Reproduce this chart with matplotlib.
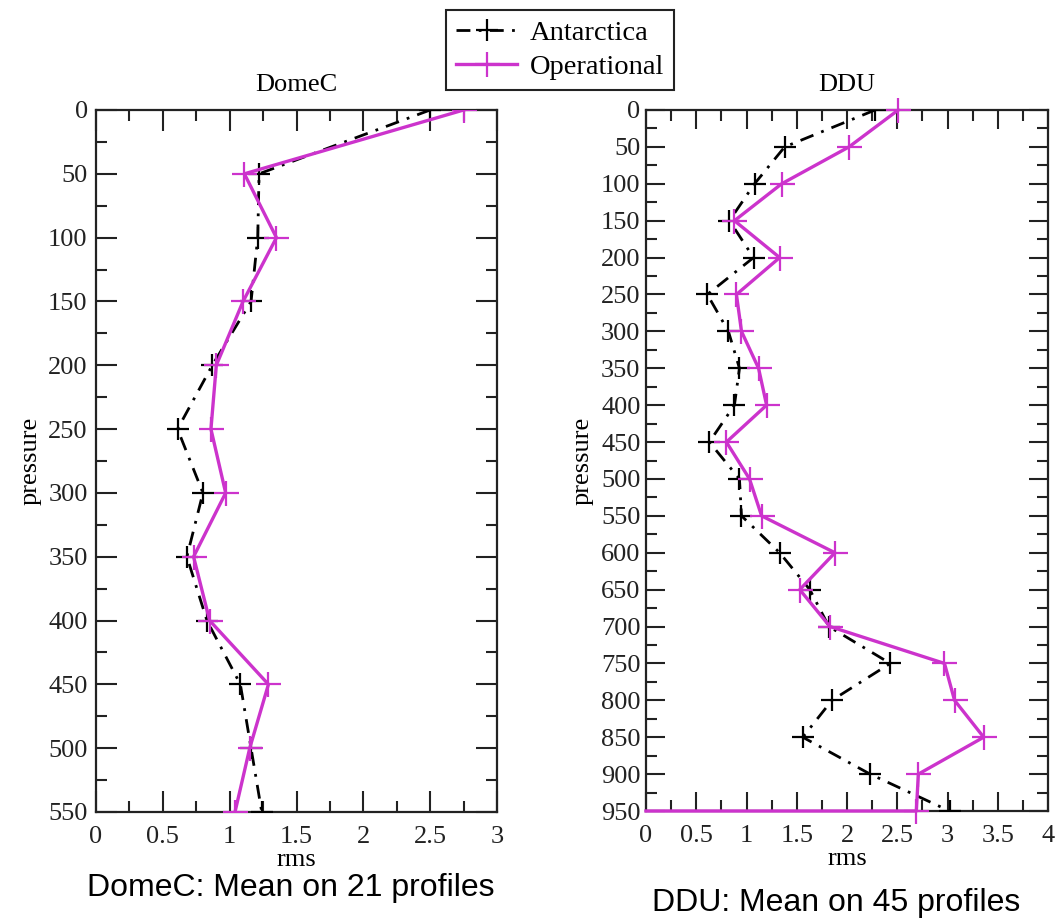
import matplotlib
matplotlib.use("Agg")
import matplotlib.pyplot as plt
from matplotlib.ticker import MultipleLocator
from matplotlib.lines import Line2D

# ---- data ----
domec_pressure = [0, 50, 100, 150, 200, 250, 300, 350, 400, 450, 500, 550]
domec_antarctica = [2.50, 1.22, 1.21, 1.16, 0.87, 0.61, 0.80, 0.68, 0.83, 1.08, 1.16, 1.24]
domec_operational = [2.75, 1.11, 1.35, 1.10, 0.90, 0.86, 0.97, 0.73, 0.85, 1.29, 1.15, 1.04]

ddu_pressure = [0, 50, 100, 150, 200, 250, 300, 350, 400, 450, 500, 550, 600, 650,
                700, 750, 800, 850, 900, 950]
ddu_antarctica = [2.28, 1.38, 1.08, 0.83, 1.07, 0.61, 0.82, 0.93, 0.88, 0.63, 0.93, 0.95,
                  1.33, 1.63, 1.82, 2.43, 1.85, 1.56, 2.23, 3.02]
ddu_operational_pressure = ddu_pressure + [950]
ddu_operational = [2.51, 2.02, 1.35, 0.88, 1.33, 0.90, 0.95, 1.12, 1.20, 0.80, 1.03, 1.15,
                   1.88, 1.53, 1.83, 2.97, 3.07, 3.36, 2.71, 2.69, 0.0]

domec_xticks = [0, 0.5, 1, 1.5, 2, 2.5, 3]
ddu_xticks = [0, 0.5, 1, 1.5, 2, 2.5, 3, 3.5, 4]

series_names = ["Antarctica", "Operational"]
black = "#000000"
magenta = "#cc33cc"

plt.rcParams['font.family'] = ['Liberation Serif', 'DejaVu Serif']

fig = plt.figure(figsize=(10.62, 9.19), dpi=100)
ax1 = fig.add_axes([96/1062, 1-812/919, (497-96)/1062, (812-110)/919])
ax2 = fig.add_axes([646/1062, 1-811/919, (1048-646)/1062, (811-110)/919])

black_style = dict(color=black, lw=2.0, linestyle=(0, (5, 3, 1, 3)),
                   marker='+', markersize=16, markeredgewidth=1.6)
mag_style = dict(color=magenta, lw=2.4, linestyle='-',
                 marker='+', markersize=18, markeredgewidth=1.6)

ax1.plot(domec_antarctica, domec_pressure, zorder=3, **black_style)
ax1.plot(domec_operational, domec_pressure, zorder=4, **mag_style)

ax2.plot(ddu_antarctica, ddu_pressure, zorder=3, clip_on=True, **black_style)
ax2.plot(ddu_operational, ddu_operational_pressure, zorder=4, clip_on=False,
         markevery=list(range(len(ddu_operational) - 1)), **mag_style)

def style_axes(ax, xmax, ymax, xticks, ystep):
    ax.set_xlim(0, xmax)
    ax.set_ylim(ymax, 0)
    ax.set_xticks(xticks)
    ax.set_xticklabels([("%g" % v) for v in xticks])
    ax.xaxis.set_minor_locator(MultipleLocator(0.25))
    ax.yaxis.set_major_locator(MultipleLocator(ystep))
    ax.yaxis.set_minor_locator(MultipleLocator(ystep / 2))
    ax.tick_params(which='both', direction='in', top=True, right=True,
                   labelsize=19, width=1.5, colors='#222222', labelcolor='#222222')
    ax.tick_params(which='major', length=15, pad=6)
    ax.tick_params(axis='x', which='major', pad=10)
    ax.tick_params(which='minor', length=8)
    for s in ax.spines.values():
        s.set_linewidth(1.6)
        s.set_color('#222222')
    ax.set_xlabel("rms", fontsize=19, labelpad=1)
    ax.set_ylabel("pressure", fontsize=19, labelpad=5)

style_axes(ax1, 3, 550, domec_xticks, 50)
style_axes(ax2, 4, 950, ddu_xticks, 50)
ax2.yaxis.set_minor_locator(MultipleLocator(25))
ax2.tick_params(which='major', length=14)
ax2.tick_params(axis='y', which='major', pad=4)

ax1.set_title("DomeC", fontsize=19, pad=14)
ax2.set_title("DDU", fontsize=19, pad=14)

handles = [Line2D([], [], **black_style), Line2D([], [], **mag_style)]
leg = fig.legend(handles, series_names, loc='upper left',
                 bbox_to_anchor=(446/1062, 1-10/919), fontsize=20.5,
                 frameon=True, fancybox=False, framealpha=1, edgecolor='#222222',
                 handlelength=2.15, handletextpad=0.45, borderpad=0.35,
                 labelspacing=0.3, borderaxespad=0)
leg.get_frame().set_linewidth(1.5)

fig.text((90+492)/2/1062, 1-888/919, "DomeC: Mean on 21 profiles",
         ha='center', va='center', fontsize=23, family=['Liberation Sans', 'DejaVu Sans'])
fig.text((653+1020)/2/1062, 1-903/919, "DDU: Mean on 45 profiles",
         ha='center', va='center', fontsize=23, family=['Liberation Sans', 'DejaVu Sans'])

fig.savefig("out.png", dpi=100)
